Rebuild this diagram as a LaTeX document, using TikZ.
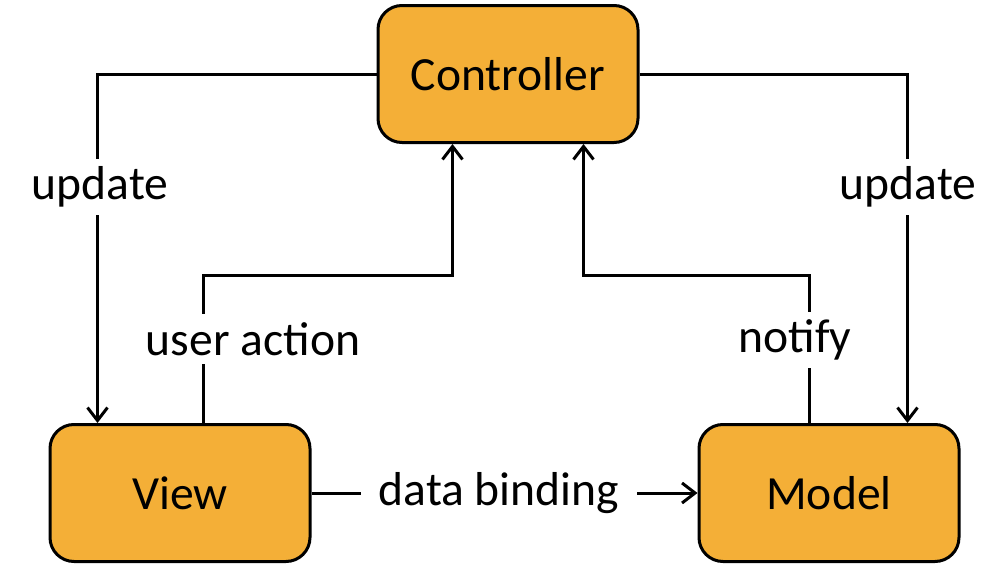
\documentclass[tikz,border=0pt]{standalone}
\usepackage{fontspec}
\setmainfont{Carlito}
\usetikzlibrary{arrows.meta}
\definecolor{boxorange}{HTML}{F4AF37}
\tikzset{
  box/.style={draw=black, line width=1.5pt, fill=boxorange, rounded corners=12pt,
    minimum width=130pt, minimum height=68.5pt, inner sep=0pt, font=\fontsize{23.8}{28}\selectfont},
  conn/.style={line width=1.5pt, draw=black},
  arr/.style={conn, -{Straight Barb[length=6.5pt, width=10pt, line width=1.5pt]}},
  lbl/.style={fill=white, inner xsep=9pt, inner ysep=4pt, font=\fontsize{23.8}{28}\selectfont}
}
\begin{document}
\begin{tikzpicture}[x=0.5pt, y=-0.5pt]
\useasboundingbox (0,0) rectangle (993,578);
\node[box] (ctrl) at (508,74) {Controller};
\node[box] (view) at (180,493) {View};
\node[box] (model) at (829,493) {Model};

% update left
\draw[arr] (ctrl.west) -| ([xshift=24.5pt]view.north west);
% update right
\draw[arr] (ctrl.east) -| ([xshift=105pt]model.north west);
% user action
\draw[arr] ([xshift=77.5pt]view.north west) -- ++(0,-148) -| ([xshift=38pt]ctrl.south west);
% notify
\draw[arr] ([xshift=56pt]model.north west) -- ++(0,-148) -| ([xshift=103.5pt]ctrl.south west);
% data binding
\draw[arr] (view.east) -- (model.west);

\node[lbl] (lupdl) at (100,187) {update};
\node[lbl] (lupdr) at (908,187) {update};
\node[lbl, inner xsep=3pt] (luser) at (253,339) {user action};
\node[lbl, inner xsep=3pt] (lnot) at (795,340) {notify};
\node[lbl] (ldata) at (499,493) {data binding};
\end{tikzpicture}
\end{document}
